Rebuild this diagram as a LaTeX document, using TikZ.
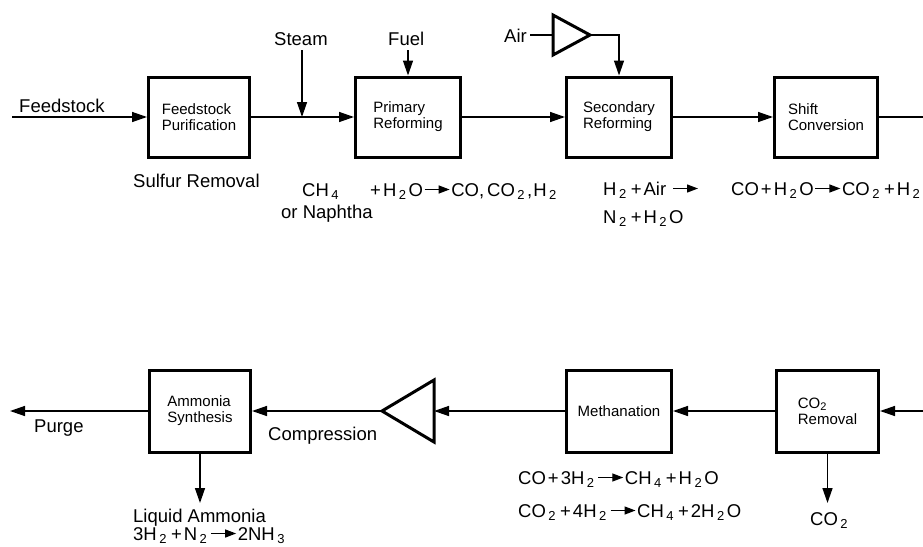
\documentclass[tikz,border=0pt]{standalone}
\usepackage{fontspec}
\setmainfont{Liberation Sans}
\usetikzlibrary{arrows.meta}
\newcommand{\sbs}[1]{\hspace{2.5pt}\raisebox{-3.5pt}{\fontsize{13}{13}\selectfont #1}\hspace{2.5pt}}
\newcommand{\bsub}[1]{\raisebox{-2.5pt}{\fontsize{11}{11}\selectfont #1}}
\newcommand{\pl}{\hspace{2pt}+\hspace{2pt}}
\newcommand{\eqarrow}{\hspace{1pt}\tikz[baseline=0pt]\draw[line width=1.3pt,-{Triangle[length=11pt,width=8pt]}] (0pt,6.5pt) -- (25pt,6.5pt);\hspace{1pt}}
\begin{document}
\begin{tikzpicture}[x=1pt,y=-1pt,
  proc/.style={draw,line width=3pt,inner sep=0pt,align=left,font=\fontsize{15}{16}\selectfont},
  lbl/.style={inner sep=0pt,anchor=base west,font=\fontsize{18.5}{22}\selectfont},
  flow/.style={line width=1.4pt,-{Triangle[length=15pt,width=10pt]}},
  pipe/.style={line width=1.4pt},
  comp/.style={line width=3pt,line join=miter}]
\clip (0,0) rectangle (923,546);
\fill[white] (0,0) rectangle (923,546);

% ---------- top row ----------
\node[proc,minimum width=101pt,minimum height=80pt] (fp) at (199,117) {Feedstock\\Purification};
\node[proc,minimum width=105pt,minimum height=80pt] (pr) at (408,117) {Primary\\Reforming};
\node[proc,minimum width=105pt,minimum height=80pt] (sr) at (619,117) {Secondary\\Reforming};
\node[proc,minimum width=103pt,minimum height=80pt] (sc) at (826,117) {Shift\\Conversion};

\coordinate (fs) at (12,117);
\coordinate (stTop) at (302,50);
\coordinate (stJ) at (302,117);
\coordinate (fuTop) at (408,50);
\coordinate (rtTop) at (930,117);

\node[lbl] (lFeed) at (19,112) {Feedstock};
\node[lbl] (lSteam) at (274,45) {Steam};
\node[lbl] (lFuel) at (388,45) {Fuel};
\node[lbl] (lAir) at (504,42) {Air};

\draw[flow] (fs) -- (fp.west);
\draw[flow] (fp.east) -- (pr.west);
\draw[flow] (stTop) -- (stJ);
\draw[flow] (fuTop) -- (pr.north);
\draw[flow] (pr.east) -- (sr.west);
\draw[flow] (sr.east) -- (sc.west);
\draw[pipe] (sc.east) -- (rtTop);

% air compressor
\coordinate (aL) at (553,35);
\coordinate (aA) at (590,35);
\coordinate (aIn) at (530,35);
\draw[comp] (553,15) -- (553,55) -- (aA) -- cycle;
\draw[pipe] (aIn) -- (aL);
\draw[flow] (aA) -| (sr.north);

% top equations
\node[lbl] (eSulf) at (133,187) {Sulfur Removal};
\node[lbl] (eCH4) at (302,196) {CH\sbs{4}};
\node[lbl] (eNaph) at (281,218) {or Naphtha};
\node[lbl] (ePrim) at (370,196) {+\hspace{2pt}H\sbs{2}O\eqarrow CO,\hspace{3pt}CO\sbs{2},\hspace{1pt}H\sbs{2}};
\node[lbl] (eSec1) at (603,195) {H\sbs{2}\pl Air \eqarrow};
\node[lbl] (eSec2) at (603,223) {N\sbs{2}\pl H\sbs{2}O};
\node[lbl] (eShift) at (731,195) {CO\pl H\sbs{2}O\eqarrow CO\sbs{2}\pl H\sbs{2}};

% ---------- bottom row ----------
\node[proc,minimum width=101pt,minimum height=82pt] (as) at (200,411) {Ammonia\\Synthesis};
\node[proc,minimum width=105pt,minimum height=82pt] (mt) at (619,411) {Methanation};
\node[proc,minimum width=102pt,minimum height=82pt] (co) at (827.5,411) {CO\bsub{2}\\Removal};

\coordinate (cL) at (382,411);
\coordinate (cR) at (434,411);
\draw[comp] (434,380) -- (434,442) -- (cL) -- cycle;

\coordinate (rtBot) at (930,411);
\coordinate (purge) at (10,411);
\coordinate (laTip) at (200,503);
\coordinate (co2Tip) at (827.5,503);

\draw[flow] (rtBot) -- (co.east);
\draw[flow] (co.west) -- (mt.east);
\draw[flow] (mt.west) -- (cR);
\draw[flow] (cL) -- (as.east);
\draw[flow] (as.west) -- (purge);
\draw[flow] (as.south) -- (laTip);
\draw[flow] (co.south) -- (co2Tip);

\node[lbl] (lPurge) at (34,432) {Purge};
\node[lbl] (lComp) at (268,440) {Compression};
\node[lbl] (lLiq) at (133,522) {Liquid Ammonia};
\node[lbl] (eNH3) at (133,540) {3H\sbs{2}\pl N\sbs{2}\eqarrow 2NH\sbs{3}};
\node[lbl] (lCO2) at (810,525) {CO\sbs{2}};
\node[lbl] (eMet1) at (518,484) {CO\pl 3H\sbs{2}\eqarrow CH\sbs{4}\pl H\sbs{2}O};
\node[lbl] (eMet2) at (518,517) {CO\sbs{2}\pl 4H\sbs{2}\eqarrow CH\sbs{4}\pl 2H\sbs{2}O};
\end{tikzpicture}
\end{document}
